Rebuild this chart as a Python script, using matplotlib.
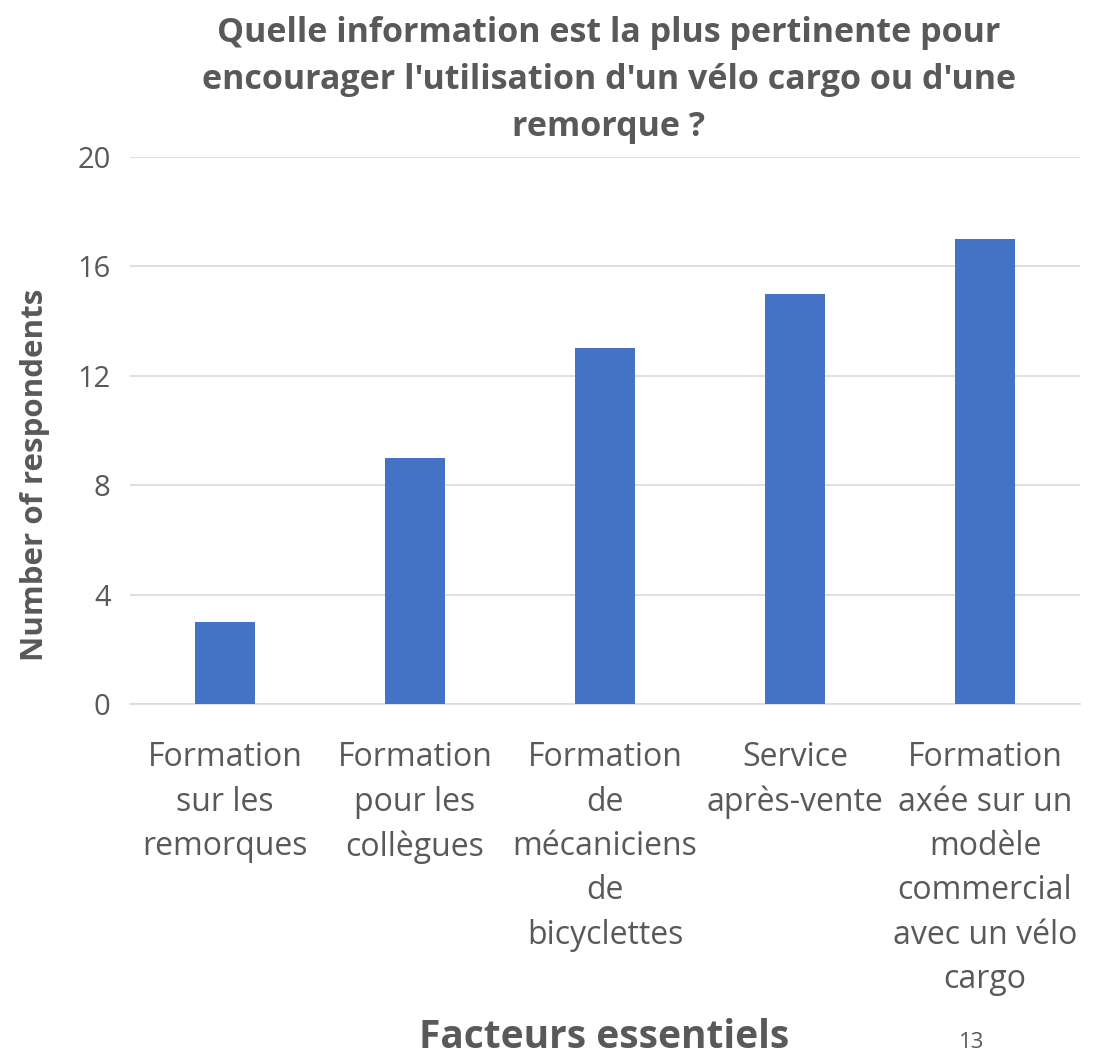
import numpy as np
import matplotlib.pyplot as plt

categories = [
    "Formation\nsur les\nremorques",
    "Formation\npour les\ncollègues",
    "Formation\nde\nmécaniciens\nde\nbicyclettes",
    "Service\naprès-vente",
    "Formation\naxée sur un\nmodèle\ncommercial\navec un vélo\ncargo",
]
respondents = [3, 9, 13, 15, 17]
yticks = [0, 4, 8, 12, 16, 20]

grey = "#595959"
bar_color = "#4472C4"

plt.rcParams["font.family"] = ["Open Sans", "DejaVu Sans"]

fig = plt.figure(figsize=(11.07, 10.57), dpi=100)
ax = fig.add_axes([130 / 1107, 1 - 704 / 1057, 950 / 1107, (704 - 157) / 1057])

x = np.arange(len(categories))
ax.bar(x, respondents, width=0.315, color=bar_color, zorder=3)

ax.set_xlim(-0.5, len(categories) - 0.5)
ax.set_ylim(0, 20)
ax.set_yticks(yticks)
ax.set_xticks(x)
ax.set_xticklabels(categories, fontsize=23, color=grey, linespacing=1.45)
ax.tick_params(axis="y", labelsize=21, labelcolor=grey, length=0, pad=14)
ax.tick_params(axis="x", length=0, pad=27)
ax.grid(axis="y", color="#d9d9d9", linewidth=1.2, zorder=0)

for side in ["top", "right", "left"]:
    ax.spines[side].set_visible(False)
ax.spines["bottom"].set_color("#d9d9d9")
ax.spines["bottom"].set_linewidth(1.2)

ax.set_ylabel("Number of respondents", fontsize=22.5, fontweight="bold", color=grey)
ax.yaxis.set_label_coords(-80 / 950, (704 - 475) / 547)
fig.text(604 / 1107, 1 - 1038 / 1057, "Facteurs essentiels", fontsize=28, fontweight="bold",
         color=grey, ha="center", va="center")
fig.text(972 / 1107, 1 - 1043 / 1057, "13", fontsize=16, color=grey, ha="center", va="center")

fig.text(609 / 1107, 1 - 80 / 1057,
         "Quelle information est la plus pertinente pour\nencourager l'utilisation d'un vélo cargo ou d'une\nremorque ?",
         fontsize=24.5, fontweight="bold", color=grey, ha="center", va="center", linespacing=1.5)

fig.savefig("out.png", dpi=100)
